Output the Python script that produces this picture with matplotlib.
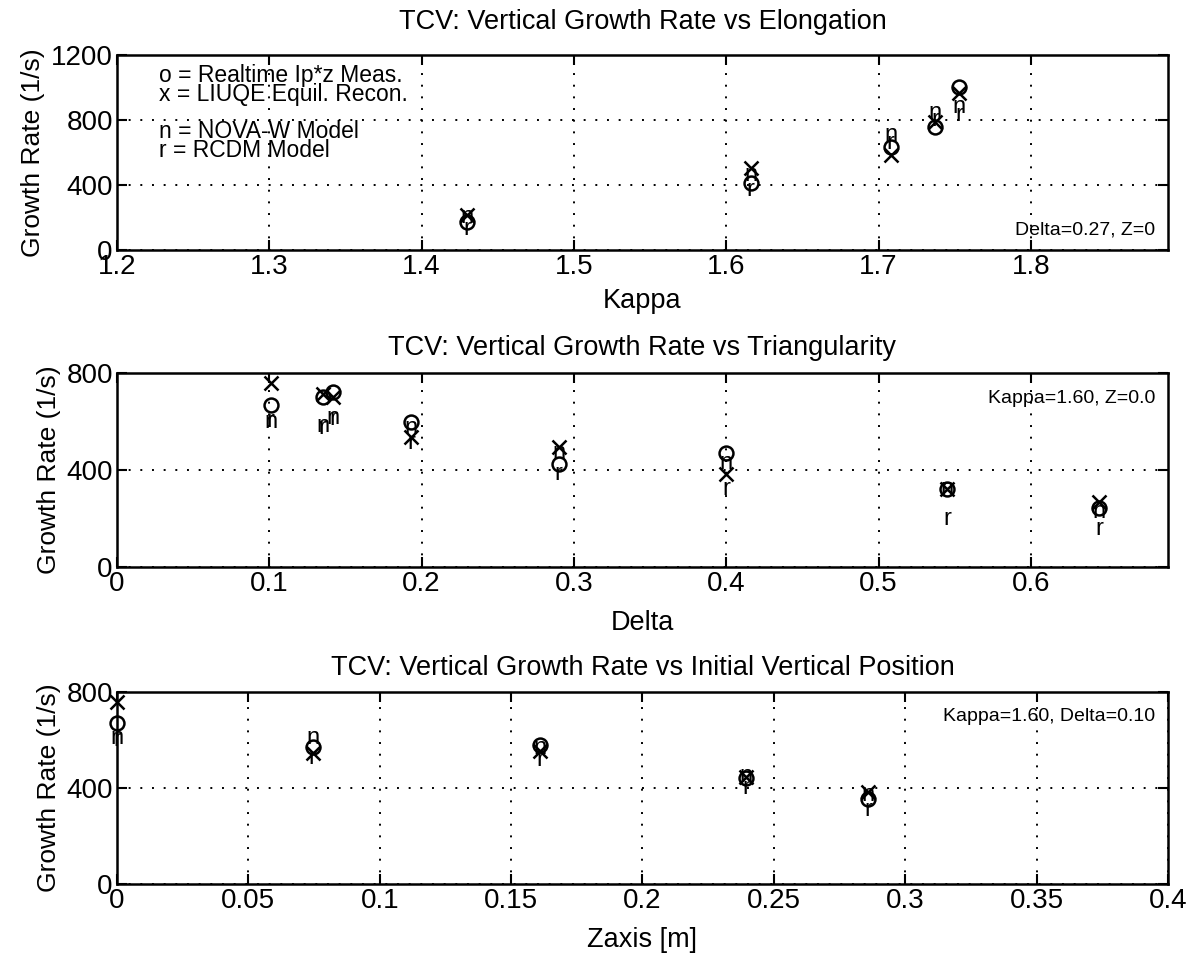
import matplotlib
matplotlib.use('Agg')
import matplotlib.pyplot as plt

plt.rcParams['font.family'] = ['Liberation Sans', 'DejaVu Sans']

# growth rate vs kappa (Delta=0.27, Z=0)
kappa = [1.43, 1.616, 1.708, 1.737, 1.753]
k_meas = [172, 412, 634, 757, 1000]
k_liuqe = [215, 505, 585, 790, 966]
k_nova = [200, 460, 708, 843, 880]
k_rcdm = [130, 370, 660, 800, 830]

# growth rate vs delta (Kappa=1.60, Z=0.0)
delta = [0.101, 0.135, 0.142, 0.193, 0.29, 0.40, 0.545, 0.645]
d_meas = [668, 700, 722, 598, 425, 470, 320, 245]
d_liuqe = [760, 712, 700, 536, 495, 385, 320, 270]
d_nova = [598, 580, 615, 573, 470, 430, 320, 225]
d_rcdm = [600, 573, 610, 511, 385, 320, 200, 155]

# growth rate vs initial vertical position (Kappa=1.60, Delta=0.10)
zpos = [0.0, 0.0745, 0.161, 0.2395, 0.286]
z_meas = [671, 571, 580, 440, 355]
z_liuqe = [758, 545, 555, 445, 385]
z_nova = [608, 608, 565, 450, 370]
z_rcdm = [600, 525, 517, 400, 310]

fig = plt.figure(figsize=(12.02, 9.63), dpi=100)

panels = [
    dict(pos=[0.0973, 0.7404, 0.8744, 0.2025], x=kappa, o=k_meas, xx=k_liuqe, n=k_nova, r=k_rcdm,
         xlim=(1.2, 1.89), xticks=[1.2, 1.3, 1.4, 1.5, 1.6, 1.7, 1.8], xtl=None,
         ylim=(0, 1200), yticks=[0, 400, 800, 1200], tpad=19, lpad=6,
         title='TCV: Vertical Growth Rate vs Elongation', xlabel='Kappa'),
    dict(pos=[0.0973, 0.4112, 0.8744, 0.2015], x=delta, o=d_meas, xx=d_liuqe, n=d_nova, r=d_rcdm,
         xlim=(0, 0.69), xticks=[0, 0.1, 0.2, 0.3, 0.4, 0.5, 0.6],
         xtl=['0', '0.1', '0.2', '0.3', '0.4', '0.5', '0.6'],
         ylim=(0, 800), yticks=[0, 400, 800], tpad=13, lpad=9,
         title='TCV: Vertical Growth Rate vs Triangularity', xlabel='Delta'),
    dict(pos=[0.0973, 0.0820, 0.8744, 0.1994], x=zpos, o=z_meas, xx=z_liuqe, n=z_nova, r=z_rcdm,
         xlim=(0, 0.4), xticks=[0, 0.05, 0.1, 0.15, 0.2, 0.25, 0.3, 0.35, 0.4],
         xtl=['0', '0.05', '0.1', '0.15', '0.2', '0.25', '0.3', '0.35', '0.4'],
         ylim=(0, 800), yticks=[0, 400, 800], tpad=12, lpad=9,
         title='TCV: Vertical Growth Rate vs Initial Vertical Position', xlabel='Zaxis [m]'),
]

axes = []
for p in panels:
    ax = fig.add_axes(p['pos'])
    ax.plot(p['x'], p['o'], 'o', ms=10, mfc='none', mec='k', mew=1.8, clip_on=False, zorder=3)
    ax.plot(p['x'], p['xx'], 'x', ms=10, mec='k', mew=1.8, clip_on=False, zorder=3)
    for xv, yv in zip(p['x'], p['n']):
        ax.text(xv, yv, 'n', ha='center', va='center', fontsize=17, zorder=3)
    for xv, yv in zip(p['x'], p['r']):
        ax.text(xv, yv, 'r', ha='center', va='center', fontsize=17, zorder=3)
    ax.set_xlim(p['xlim'])
    ax.set_ylim(p['ylim'])
    ax.set_xticks(p['xticks'])
    if p['xtl']:
        ax.set_xticklabels(p['xtl'])
    ax.set_yticks(p['yticks'])
    ax.grid(True, color='k', linestyle=(0, (1, 5)), linewidth=1.4)
    ax.tick_params(direction='in', top=True, right=True, length=7, width=1.5,
                   labelsize=20, pad=3)
    for s in ax.spines.values():
        s.set_linewidth(1.8)
    ax.set_title(p['title'], fontsize=19.5, pad=p['tpad'])
    ax.set_xlabel(p['xlabel'], fontsize=19.5, labelpad=p['lpad'])
    ax.set_ylabel('Growth Rate (1/s)', fontsize=19, labelpad=4)
    axes.append(ax)

ax1, ax2, ax3 = axes
ax1.text(0.04, 0.955, 'o = Realtime Ip*z Meas.\nx = LIUQE Equil. Recon.', transform=ax1.transAxes,
         fontsize=16.5, va='top', linespacing=0.78)
ax1.text(0.04, 0.665, 'n = NOVA-W Model\nr = RCDM Model', transform=ax1.transAxes,
         fontsize=16.5, va='top', linespacing=0.78)
ax1.text(0.988, 0.06, 'Delta=0.27, Z=0', transform=ax1.transAxes, fontsize=14,
         ha='right', va='bottom')
ax2.text(0.988, 0.87, 'Kappa=1.60, Z=0.0', transform=ax2.transAxes, fontsize=14,
         ha='right', va='center')
ax3.text(0.988, 0.87, 'Kappa=1.60, Delta=0.10', transform=ax3.transAxes, fontsize=14,
         ha='right', va='center')

fig.savefig('out.png', dpi=100)
